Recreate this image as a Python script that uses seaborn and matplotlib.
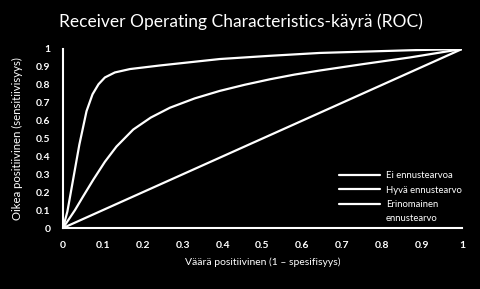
import matplotlib
matplotlib.use("Agg")
import matplotlib.pyplot as plt
from matplotlib.lines import Line2D
import seaborn as sns
import pandas as pd

# Data
x_none = [0.0, 1.0]
y_none = [0.0, 1.0]

x_good = [0.0, 0.03, 0.05, 0.076, 0.105, 0.134, 0.176, 0.22, 0.268, 0.33, 0.393, 0.455, 0.519, 0.58, 0.644, 0.75, 0.87, 1.0]
y_good = [0.0, 0.10, 0.175, 0.27, 0.37, 0.455, 0.55, 0.617, 0.672, 0.724, 0.766, 0.80, 0.831, 0.857, 0.880, 0.915, 0.953, 1.0]

x_exc = [0.0, 0.011, 0.026, 0.041, 0.059, 0.074, 0.089, 0.105, 0.130, 0.168, 0.243, 0.268, 0.393, 0.519, 0.644, 0.87, 1.0]
y_exc = [0.0, 0.092, 0.279, 0.466, 0.653, 0.747, 0.803, 0.841, 0.869, 0.888, 0.908, 0.914, 0.944, 0.962, 0.978, 0.993, 1.0]

labels = ["Ei ennustearvoa", "Hyvä ennustearvo", "Erinomainen"]
extra_label = "ennustearvo"
ticks = [0, 0.1, 0.2, 0.3, 0.4, 0.5, 0.6, 0.7, 0.8, 0.9, 1]
tick_labels = ["0", "0.1", "0.2", "0.3", "0.4", "0.5", "0.6", "0.7", "0.8", "0.9", "1"]

title = "Receiver Operating Characteristics-käyrä (ROC)"
xlabel = "Väärä positiivinen (1 – spesifisyys)"
ylabel = "Oikea positiivinen (sensitiivisyys)"

sns.set_style("dark")
plt.rcParams["font.family"] = ["Lato", "DejaVu Sans"]
plt.rcParams["lines.solid_joinstyle"] = "round"

fig = plt.figure(figsize=(4.81, 2.89), dpi=100, facecolor="black")
ax = fig.add_axes([63/481, 61/289, 399/481, 179/289])
ax.set_facecolor("black")

series = [(x_none, y_none), (x_good, y_good), (x_exc, y_exc)]
for (xs, ys), lab in zip(series, labels):
    df = pd.DataFrame({"x": xs, "y": ys})
    sns.lineplot(data=df, x="x", y="y", ax=ax, color="white", linewidth=1.6,
                 label=lab, sort=False, estimator=None)

ax.set_xlim(0, 1)
ax.set_ylim(0, 1)
ax.set_xticks(ticks)
ax.set_xticklabels(tick_labels)
ax.set_yticks(ticks)
ax.set_yticklabels(tick_labels)
ax.grid(False)
ax.tick_params(colors="white", length=0, labelsize=7.5, pad=9)
for lbl in ax.get_xticklabels() + ax.get_yticklabels():
    lbl.set_fontweight("bold")
for s in ["top", "right"]:
    ax.spines[s].set_visible(False)
for s in ["left", "bottom"]:
    ax.spines[s].set_visible(True)
    ax.spines[s].set_color("white")
    ax.spines[s].set_linewidth(1.5)

ax.set_xlabel(xlabel, color="white", fontsize=7.5, labelpad=6)
ax.set_ylabel(ylabel, color="white", fontsize=8.2, labelpad=9)
fig.text(0.5, 1 - 22/289, title, color="white", fontsize=12.5, ha="center", va="center")

handles, labs = ax.get_legend_handles_labels()
handles.append(Line2D([], [], color="none"))
labs.append(extra_label)
leg = ax.legend(handles, labs, loc="upper left", frameon=False,
                fontsize=6.8, handlelength=4.4, handletextpad=0.6, labelspacing=0.55,
                bbox_to_anchor=(330/481, 1 - 163/289), bbox_transform=fig.transFigure)
for t in leg.get_texts():
    t.set_color("white")

fig.savefig("out.png", dpi=100, facecolor="black")
